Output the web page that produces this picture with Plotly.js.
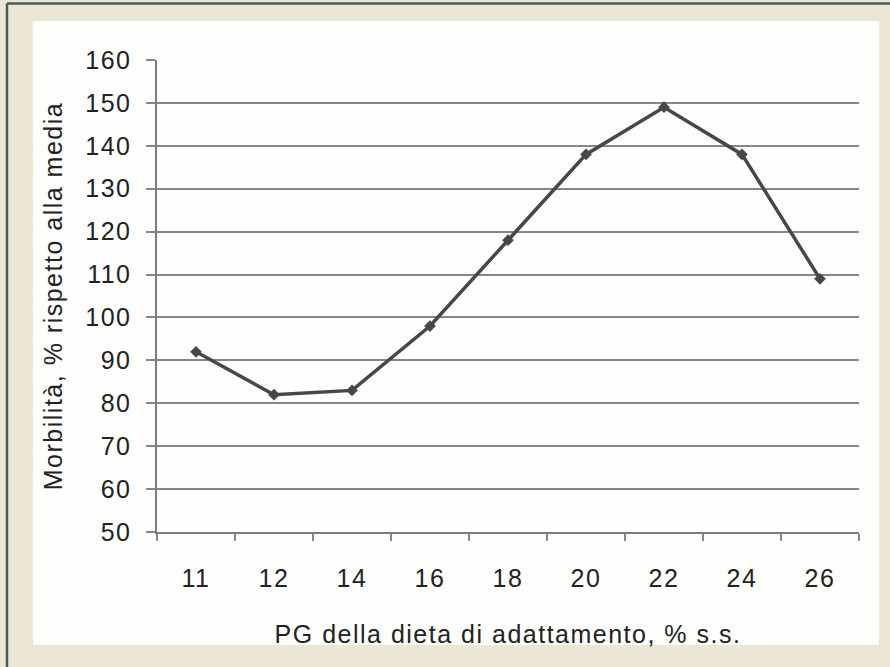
<!DOCTYPE html>
<html>
<head>
<meta charset="utf-8">
<script src="https://cdn.plot.ly/plotly-3.0.1.min.js"></script>
<style>
  html, body { margin: 0; padding: 0; background: #ece6d6; }
  #chart { width: 890px; height: 667px; }
  #chart .xtick text, #chart .ytick text,
  #chart .g-xtitle text, #chart .g-ytitle text { letter-spacing: 1.5px; }
</style>
</head>
<body>
<div id="chart"></div>
<script>
// Protein level of the adaptation diet (% of dry matter) and relative morbidity
const categories = ['11', '12', '14', '16', '18', '20', '22', '24', '26'];
const morbidity = [92, 82, 83, 98, 118, 138, 149, 138, 109];
const yTicks = [50, 60, 70, 80, 90, 100, 110, 120, 130, 140, 150, 160];

const xTitle = 'PG della dieta di adattamento, % s.s.';
const yTitle = 'Morbilità, % rispetto alla media';

const W = 890, H = 667;
const M = { l: 157, r: 31, t: 60, b: 135 };
const plotW = W - M.l - M.r, plotH = H - M.t - M.b;
// pixel position -> paper fraction, for the frame decorations
const px = x => (x - M.l) / plotW;
const py = y => (H - M.b - y) / plotH;

const textFont = { family: '"Liberation Sans", Arial, sans-serif', size: 25, color: '#222222' };
const gridGrey = '#878787';

const trace = {
  type: 'scatter',
  mode: 'lines+markers',
  x: categories,
  y: morbidity,
  line: { color: '#474747', width: 3.5 },
  marker: { symbol: 'diamond', size: 9, color: '#474747' },
  hoverinfo: 'x+y'
};

const layout = {
  width: W, height: H,
  margin: M,
  paper_bgcolor: '#ece6d6',
  plot_bgcolor: 'rgba(0,0,0,0)',
  showlegend: false,
  font: textFont,
  xaxis: {
    type: 'category',
    categoryorder: 'array',
    categoryarray: categories,
    range: [-0.5, categories.length - 0.5],
    tickson: 'boundaries',
    ticks: 'outside', ticklen: 7, tickwidth: 1.5, tickcolor: gridGrey,
    showline: true, linecolor: '#7c7c7c', linewidth: 2,
    showgrid: false, zeroline: false,
    tickfont: textFont,
    ticklabelstandoff: 23,
    title: { text: xTitle, font: textFont, standoff: 34 }
  },
  yaxis: {
    range: [50, 160],
    tickmode: 'array', tickvals: yTicks,
    ticks: 'outside', ticklen: 9, tickwidth: 2, tickcolor: gridGrey,
    showline: true, linecolor: '#7c7c7c', linewidth: 2.5,
    showgrid: true, gridcolor: gridGrey, gridwidth: 2,
    zeroline: false,
    tickfont: textFont,
    ticklabelstandoff: 9,
    title: { text: yTitle, font: textFont, standoff: 20 }
  },
  shapes: [
    // white card behind the chart
    { type: 'rect', xref: 'paper', yref: 'paper', layer: 'below',
      x0: px(33), x1: px(879), y0: py(645), y1: py(21),
      fillcolor: '#fefefc', line: { width: 0 } },
    // dark frame on the top and left edges
    { type: 'line', xref: 'paper', yref: 'paper', layer: 'above',
      x0: px(7), x1: px(900), y0: py(3.5), y1: py(3.5),
      line: { color: '#4a5d59', width: 2.5 } },
    { type: 'line', xref: 'paper', yref: 'paper', layer: 'above',
      x0: px(7), x1: px(7), y0: py(3.5), y1: py(680),
      line: { color: '#4a5d59', width: 2.5 } }
  ]
};

Plotly.newPlot('chart', [trace], layout, { displayModeBar: false, staticPlot: true });
</script>
</body>
</html>
